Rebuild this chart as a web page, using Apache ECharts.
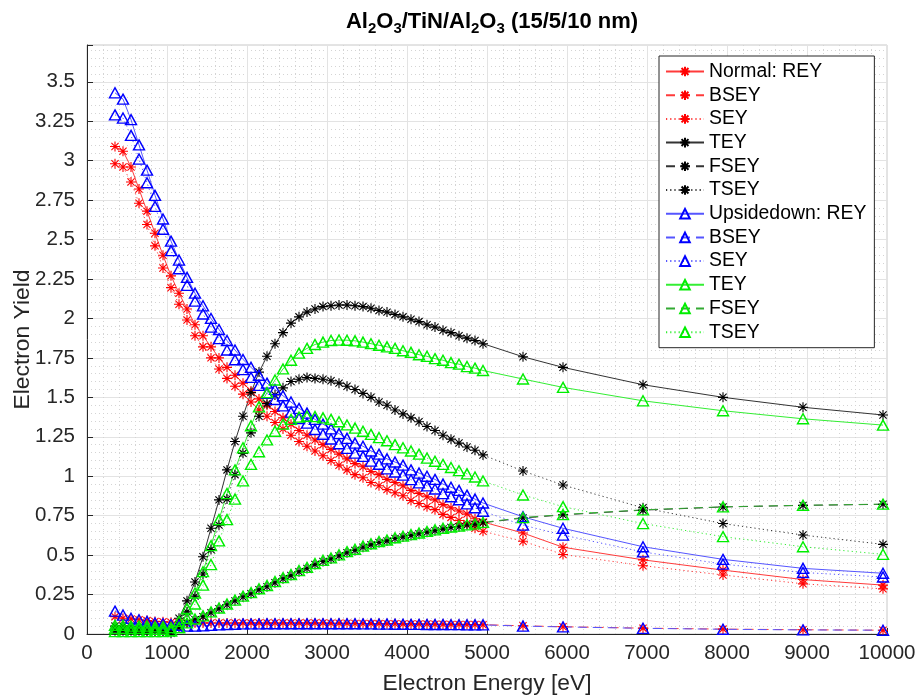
<!DOCTYPE html>
<html>
<head>
<meta charset="utf-8">
<script src="https://cdn.jsdelivr.net/npm/echarts@6/dist/echarts.min.js"></script>
<style>html,body{margin:0;padding:0;background:#fff}#c{width:919px;height:697px}</style>
</head>
<body>
<div id="c"></div>
<script>
// Electron energies as drawn (eV)
const energy = [350,450,550,650,750,850,950,1050,1150,1250,1350,1450,1550,1650,1750,1850,1950,2050,2150,2250,2350,2450,2550,2650,2750,2850,2950,3050,3150,3250,3350,3450,3550,3650,3750,3850,3950,4050,4150,4250,4350,4450,4550,4650,4750,4850,4950,5450,5950,6950,7950,8950,9950];

// Normal (red / black asterisks)
const normREY = [3.09,3.06,2.96,2.82,2.68,2.54,2.40,2.27,2.16,2.06,1.96,1.89,1.82,1.75,1.69,1.64,1.59,1.54,1.49,1.45,1.41,1.37,1.33,1.29,1.26,1.23,1.20,1.17,1.14,1.11,1.08,1.06,1.03,1.01,0.98,0.96,0.94,0.91,0.89,0.87,0.85,0.82,0.80,0.78,0.76,0.73,0.71,0.64,0.55,0.47,0.405,0.345,0.31];
const normBSEY = [0.11,0.10,0.095,0.09,0.085,0.08,0.078,0.075,0.072,0.07,0.07,0.07,0.07,0.07,0.07,0.07,0.07,0.07,0.07,0.07,0.07,0.07,0.07,0.07,0.07,0.07,0.07,0.068,0.068,0.068,0.067,0.067,0.066,0.066,0.065,0.065,0.064,0.064,0.063,0.063,0.062,0.062,0.061,0.061,0.06,0.06,0.059,0.052,0.046,0.037,0.031,0.027,0.024];
const normSEY = [2.98,2.96,2.865,2.73,2.595,2.46,2.32,2.195,2.09,1.99,1.89,1.82,1.75,1.68,1.62,1.57,1.52,1.47,1.42,1.38,1.34,1.30,1.26,1.22,1.19,1.16,1.13,1.10,1.07,1.04,1.01,0.99,0.96,0.94,0.915,0.895,0.876,0.846,0.827,0.807,0.788,0.758,0.739,0.719,0.70,0.67,0.651,0.588,0.504,0.433,0.374,0.318,0.286];
const normTEY = [0.05,0.05,0.045,0.045,0.04,0.04,0.035,0.02,0.10,0.21,0.33,0.49,0.67,0.85,1.04,1.22,1.38,1.53,1.66,1.76,1.84,1.91,1.97,2.01,2.04,2.06,2.075,2.08,2.085,2.085,2.08,2.075,2.065,2.05,2.04,2.025,2.01,1.995,1.98,1.96,1.945,1.925,1.91,1.89,1.875,1.86,1.84,1.757,1.69,1.58,1.50,1.437,1.388];
const normFSEY = [0.02,0.02,0.02,0.02,0.02,0.02,0.02,0.02,0.04,0.07,0.09,0.11,0.135,0.16,0.185,0.21,0.235,0.255,0.28,0.30,0.325,0.35,0.37,0.395,0.415,0.44,0.46,0.475,0.495,0.515,0.53,0.55,0.565,0.58,0.59,0.605,0.615,0.625,0.635,0.645,0.655,0.665,0.675,0.68,0.69,0.695,0.705,0.735,0.755,0.785,0.805,0.815,0.822];
const normTSEY = [0.03,0.03,0.025,0.025,0.02,0.02,0.015,0.005,0.06,0.14,0.24,0.38,0.535,0.69,0.855,1.01,1.145,1.275,1.38,1.46,1.515,1.56,1.60,1.615,1.625,1.62,1.615,1.605,1.59,1.57,1.55,1.525,1.50,1.47,1.45,1.42,1.395,1.37,1.345,1.315,1.29,1.26,1.235,1.21,1.185,1.165,1.135,1.033,0.944,0.80,0.70,0.627,0.568];

// Upside-down (blue / green triangles)
const upREY = [3.43,3.39,3.26,3.10,2.94,2.78,2.63,2.49,2.37,2.26,2.16,2.08,2.00,1.93,1.86,1.80,1.74,1.69,1.64,1.59,1.55,1.51,1.47,1.43,1.40,1.36,1.33,1.30,1.27,1.24,1.21,1.19,1.16,1.14,1.11,1.09,1.07,1.04,1.02,1.00,0.98,0.95,0.93,0.91,0.88,0.855,0.83,0.743,0.67,0.553,0.473,0.416,0.385];
const upBSEY = [0.145,0.12,0.10,0.09,0.08,0.07,0.065,0.06,0.055,0.05,0.05,0.052,0.055,0.058,0.06,0.062,0.064,0.064,0.064,0.065,0.065,0.065,0.065,0.065,0.065,0.065,0.065,0.065,0.065,0.065,0.065,0.064,0.064,0.063,0.063,0.062,0.062,0.061,0.061,0.06,0.06,0.06,0.059,0.059,0.058,0.058,0.058,0.05,0.045,0.036,0.03,0.026,0.024];
const upSEY = [3.29,3.27,3.16,3.01,2.86,2.71,2.565,2.43,2.315,2.21,2.11,2.028,1.945,1.872,1.80,1.738,1.676,1.626,1.576,1.526,1.486,1.446,1.406,1.366,1.336,1.296,1.266,1.236,1.206,1.176,1.146,1.126,1.096,1.076,1.047,1.027,1.007,0.978,0.958,0.939,0.919,0.89,0.87,0.851,0.825,0.80,0.778,0.69,0.627,0.52,0.443,0.39,0.361];
const upTEY = [0.055,0.055,0.05,0.05,0.05,0.045,0.045,0.04,0.08,0.16,0.26,0.395,0.56,0.725,0.89,1.04,1.18,1.32,1.44,1.53,1.61,1.68,1.735,1.78,1.81,1.835,1.85,1.86,1.863,1.862,1.858,1.85,1.84,1.83,1.82,1.81,1.795,1.785,1.77,1.76,1.745,1.735,1.72,1.71,1.695,1.685,1.67,1.616,1.563,1.478,1.415,1.364,1.324];
const upFSEY = [0.015,0.015,0.015,0.015,0.015,0.015,0.015,0.02,0.04,0.07,0.095,0.115,0.14,0.165,0.19,0.215,0.24,0.262,0.287,0.307,0.332,0.357,0.377,0.402,0.422,0.447,0.467,0.482,0.502,0.522,0.537,0.557,0.572,0.586,0.596,0.61,0.62,0.63,0.64,0.65,0.66,0.67,0.678,0.684,0.692,0.698,0.707,0.738,0.757,0.787,0.806,0.816,0.823];
const upTSEY = [0.035,0.035,0.035,0.035,0.035,0.03,0.03,0.02,0.04,0.10,0.19,0.31,0.44,0.59,0.725,0.855,0.97,1.075,1.155,1.23,1.285,1.33,1.36,1.375,1.38,1.378,1.37,1.36,1.345,1.325,1.305,1.285,1.265,1.245,1.225,1.20,1.18,1.16,1.14,1.115,1.095,1.075,1.055,1.035,1.015,0.995,0.97,0.881,0.807,0.70,0.617,0.553,0.505];

const xTicks = [0,1000,2000,3000,4000,5000,6000,7000,8000,9000,10000];
const yTicks = [0,0.25,0.5,0.75,1,1.25,1.5,1.75,2,2.25,2.5,2.75,3,3.25,3.5];

const FONT = '"Liberation Sans", Arial, Helvetica, sans-serif';
const STAR = 'path://M0,-5L0,5M-5,0L5,0M-3.6,-3.6L3.6,3.6M-3.6,3.6L3.6,-3.6';
const TRI = 'path://M0,-5L4.6,3.4L-4.6,3.4Z';

function mk(name, vals, color, dash, sym, lineColor) {
  return {
    name: name,
    type: 'line',
    data: energy.map((e, i) => [e, vals[i]]),
    symbol: sym === 'star' ? STAR : TRI,
    symbolSize: sym === 'star' ? 10 : [11, 10],
    showAllSymbol: true,
    animation: false,
    lineStyle: { color: lineColor || color, width: 1, type: dash },
    itemStyle: { color: 'rgba(0,0,0,0)', borderColor: color, borderWidth: sym === 'star' ? 1.1 : 1.4 },
    emphasis: { disabled: true },
    z: 3
  };
}

const solid = 'solid', dashed = [9, 6], dotted = [1.2, 3];
const series = [
  mk('Normal: REY', normREY, '#ff0000', solid, 'star', '#ff3a3a'),
  mk('BSEY', normBSEY, '#ff0000', dashed, 'star', '#ff3a3a'),
  mk('SEY', normSEY, '#ff0000', dotted, 'star', '#ff3a3a'),
  mk('TEY', normTEY, '#000000', solid, 'star', '#333333'),
  mk('FSEY', normFSEY, '#000000', dashed, 'star', '#333333'),
  mk('TSEY', normTSEY, '#000000', dotted, 'star', '#333333'),
  mk('Upsidedown: REY', upREY, '#0000ff', solid, 'tri', '#5555ff'),
  mk('BSEY ', upBSEY, '#0000ff', dashed, 'tri', '#5555ff'),
  mk('SEY ', upSEY, '#0000ff', dotted, 'tri', '#5555ff'),
  mk('TEY ', upTEY, '#00ee00', solid, 'tri', '#33ee33'),
  mk('FSEY ', upFSEY, '#00ee00', dashed, 'tri', '#33aa33'),
  mk('TSEY ', upTSEY, '#00ee00', dotted, 'tri', '#33ee33')
];

const chart = echarts.init(document.getElementById('c'), null, { renderer: 'canvas' });
chart.setOption({
  backgroundColor: '#ffffff',
  animation: false,
  title: {
    text: '{a|Al}{s|2}{a|O}{s|3}{a|/TiN/Al}{s|2}{a|O}{s|3}{a| (15/5/10 nm)}',
    left: 487, top: 2, textAlign: 'center',
    textStyle: {
      rich: {
        a: { fontFamily: FONT, fontSize: 22, fontWeight: 'bold', color: '#000' },
        s: { fontFamily: FONT, fontSize: 15, fontWeight: 'bold', color: '#000', padding: [14, 0, 0, 0] }
      }
    }
  },
  grid: {
    left: 87, right: 32, top: 45, bottom: 63, containLabel: false, outerBoundsMode: 'none',
    show: true, borderColor: '#c8c8c8', borderWidth: 1, backgroundColor: 'transparent'
  },
  legend: {
    orient: 'vertical', left: 659, top: 56,
    backgroundColor: '#ffffff', borderColor: '#262626', borderWidth: 1,
    padding: [6, 8, 6, 6], itemGap: 4.7, itemWidth: 38, itemHeight: 12,
    textStyle: { fontFamily: FONT, fontSize: 19.4, color: '#000' },
    data: series.map(s => s.name)
  },
  xAxis: {
    type: 'value', min: xTicks[0], max: xTicks[xTicks.length - 1], interval: 1000,
    name: 'Electron Energy [eV]', nameLocation: 'middle', nameGap: 38, nameMoveOverlap: false,
    nameTextStyle: { fontFamily: FONT, fontSize: 22.8, color: '#262626' },
    axisLine: { show: true, lineStyle: { color: '#262626', width: 1 } },
    axisTick: { show: true, inside: true, length: 6, lineStyle: { color: '#262626' } },
    axisLabel: { fontFamily: FONT, fontSize: 20.5, color: '#262626', margin: 9, formatter: v => String(v) },
    splitLine: { show: true, lineStyle: { color: '#e3e3e3', width: 1 } },
    minorTick: { show: false, splitNumber: 5 },
    minorSplitLine: { show: true, lineStyle: { color: '#d4d4d4', width: 1, type: [1, 3] } }
  },
  yAxis: {
    type: 'value', min: yTicks[0], max: 3.733, interval: 0.25,
    name: 'Electron Yield', nameLocation: 'middle', nameGap: 53, nameMoveOverlap: false,
    nameTextStyle: { fontFamily: FONT, fontSize: 22.8, color: '#262626' },
    axisLine: { show: true, lineStyle: { color: '#262626', width: 1 } },
    axisTick: { show: true, inside: true, length: 6, lineStyle: { color: '#262626' } },
    axisLabel: {
      fontFamily: FONT, fontSize: 20.5, color: '#262626', margin: 12,
      formatter: v => (yTicks.some(t => Math.abs(t - v) < 1e-9) ? String(+v.toFixed(2)) : '')
    },
    splitLine: { show: true, lineStyle: { color: '#e3e3e3', width: 1 } },
    minorTick: { show: false, splitNumber: 5 },
    minorSplitLine: { show: true, lineStyle: { color: '#d4d4d4', width: 1, type: [1, 3] } }
  },
  series: series
});
</script>
</body>
</html>
